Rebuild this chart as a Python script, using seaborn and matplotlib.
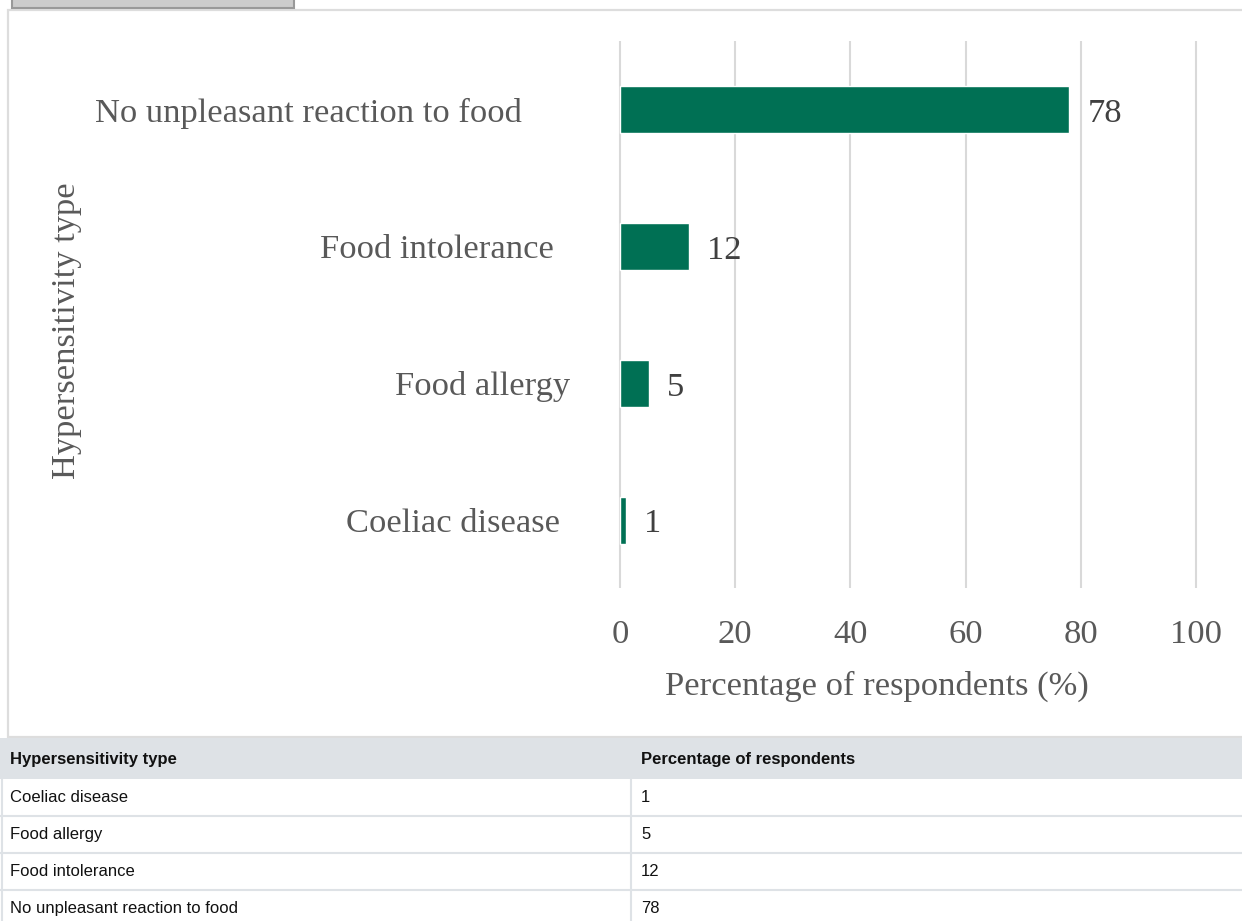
import matplotlib
matplotlib.use("Agg")
import matplotlib.pyplot as plt
import matplotlib.transforms as mtransforms
from matplotlib.patches import Rectangle
import seaborn as sns
import pandas as pd

# data (table order)
categories = ["Coeliac disease", "Food allergy", "Food intolerance",
              "No unpleasant reaction to food"]
percentages = [1, 5, 12, 78]
x_ticks = [0, 20, 40, 60, 80, 100]

col_names = ["Hypersensitivity type", "Percentage of respondents"]
x_label = "Percentage of respondents (%)"
y_label = "Hypersensitivity type"

BAR_COLOR = "#007054"
GRID_COLOR = "#d9d9d9"
TEXT_GRAY = "#595959"
VALUE_COLOR = "#404040"
TABLE_LINE = "#dee2e6"
FS = 24.8

sns.set_style("white")
plt.rcParams["font.family"] = ["Liberation Serif", "DejaVu Serif"]

W, H = 1242, 921
fig = plt.figure(figsize=(W / 100, H / 100), dpi=100)


def fx(px):
    return px / W


def fy(py):
    return 1 - py / H


# frame round the chart and the cut-off button on top
fig.add_artist(Rectangle((fx(8), fy(737)), fx(1250) - fx(8), fy(10) - fy(737),
                         transform=fig.transFigure, facecolor="white",
                         edgecolor="#dddddd", lw=1.6, zorder=0))
fig.add_artist(Rectangle((fx(12), fy(8)), fx(294) - fx(12), fy(-10) - fy(8),
                         transform=fig.transFigure, facecolor="#cccccc",
                         edgecolor="#999999", lw=1.5, zorder=1))

# chart
df = pd.DataFrame({"type": categories, "pct": percentages})
plot_order = categories[::-1]

x0_px, x100_px = 620, 1196
scale = (x100_px - x0_px) / 100
xmin, xmax = -0.5, 100.5
left_px = x0_px + xmin * scale
ax = fig.add_axes([fx(left_px), fy(588.5), (xmax - xmin) * scale / W,
                   (588.5 - 41.5) / H])
ax.set_facecolor("none")

sns.barplot(data=df, x="pct", y="type", order=plot_order, orient="h",
            color=BAR_COLOR, width=0.345, saturation=1, ax=ax, zorder=3)

ax.set_xlim(xmin, xmax)
ax.set_ylim(3.5, -0.5)
ax.set_xticks(x_ticks)
ax.grid(axis="x", color=GRID_COLOR, lw=1.5, zorder=0)
ax.grid(axis="y", visible=False)
for s in ax.spines.values():
    s.set_visible(False)

ax.tick_params(axis="x", length=0, pad=22, labelsize=FS, labelcolor=TEXT_GRAY)
ax.tick_params(axis="y", length=0, pad=34, labelsize=FS, labelcolor=TEXT_GRAY)

# category labels are not aligned on one edge in the original
extra_px = [48, 16, 0, 10]
for lab, dx in zip(ax.get_yticklabels(), extra_px):
    lab.set_transform(lab.get_transform() +
                      mtransforms.ScaledTranslation(-dx / 100, 0, fig.dpi_scale_trans))

labels = ax.bar_label(ax.containers[0], padding=13, fontsize=FS, color=VALUE_COLOR)
for t in labels:
    t.xyann = (t.xyann[0], t.xyann[1] - 2.8)

ax.set_xlabel(x_label, fontsize=FS, color=TEXT_GRAY, labelpad=15)
ax.xaxis.label.set_x((877 - left_px) / ((xmax - xmin) * scale))
ax.set_ylabel("")
fig.text(fx(67), fy(331), y_label, rotation=90, fontsize=FS, color=TEXT_GRAY,
         ha="center", va="center")

# data table under the chart
tfont = ["Liberation Sans", "DejaVu Sans"]
fig.add_artist(Rectangle((0, fy(779)), 1, fy(738) - fy(779),
                         transform=fig.transFigure, facecolor=TABLE_LINE,
                         edgecolor="none", zorder=1))
fig.text(fx(10), fy(759), col_names[0], fontsize=12, fontweight="bold",
         family=tfont, color="#111111", ha="left", va="center")
fig.text(fx(641), fy(759), col_names[1], fontsize=12, fontweight="bold",
         family=tfont, color="#111111", ha="left", va="center")

row_h = 37
for i, (cat, val) in enumerate(zip(categories, percentages)):
    top = 779 + i * row_h
    mid = top + row_h / 2
    fig.text(fx(10), fy(mid), cat, fontsize=12, family=tfont,
             color="#111111", ha="left", va="center")
    fig.text(fx(641), fy(mid), str(val), fontsize=12, family=tfont,
             color="#111111", ha="left", va="center")
    if i > 0:
        fig.add_artist(plt.Line2D([0, 1], [fy(top), fy(top)],
                                  transform=fig.transFigure,
                                  color=TABLE_LINE, lw=1.5))
fig.add_artist(plt.Line2D([fx(631), fx(631)], [fy(779), 0],
                          transform=fig.transFigure, color=TABLE_LINE, lw=1.5))
fig.add_artist(plt.Line2D([fx(1.5), fx(1.5)], [fy(779), 0],
                          transform=fig.transFigure, color=TABLE_LINE, lw=1.5))

fig.savefig("out.png", dpi=100)
